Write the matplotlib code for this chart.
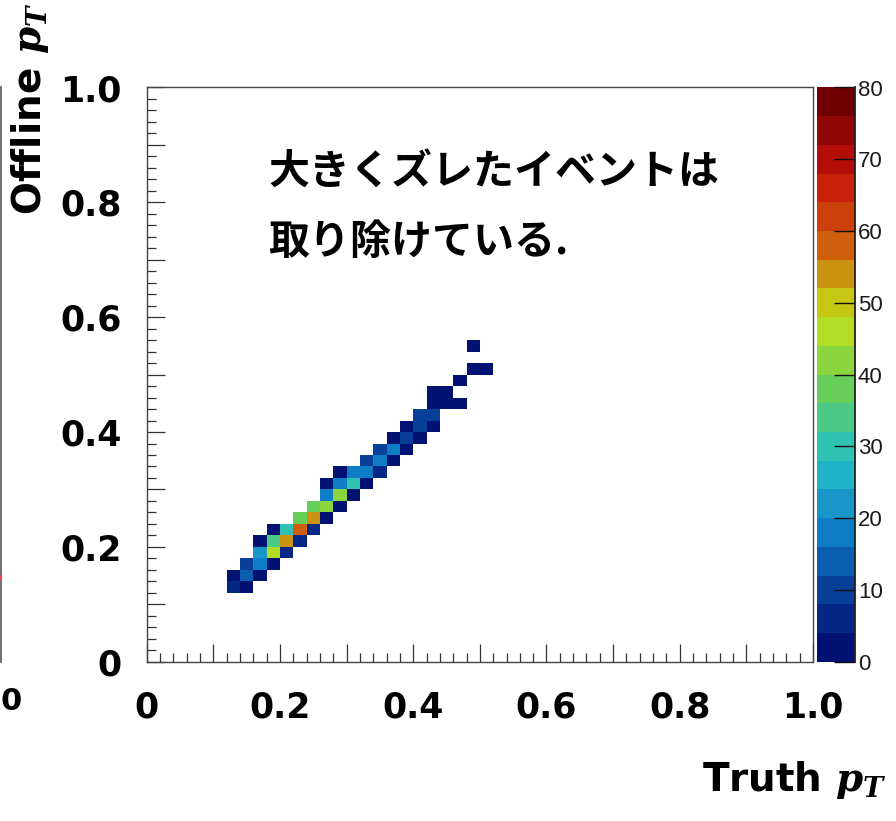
import numpy as np
import matplotlib
matplotlib.use('Agg')
import matplotlib.pyplot as plt
from matplotlib.colors import LinearSegmentedColormap, ListedColormap, BoundaryNorm
from matplotlib.ticker import MultipleLocator, FuncFormatter
from matplotlib.transforms import Affine2D

# 2D histogram contents (bin centres, 50x50 bins of 0.02)
truth_pt = [0.13, 0.15,
            0.13, 0.15, 0.17,
            0.15, 0.17, 0.19,
            0.17, 0.19, 0.21,
            0.17, 0.19, 0.21, 0.23,
            0.19, 0.21, 0.23, 0.25,
            0.23, 0.25, 0.27,
            0.25, 0.27, 0.29,
            0.27, 0.29, 0.31,
            0.27, 0.29, 0.31, 0.33,
            0.29, 0.31, 0.33, 0.35,
            0.33, 0.35, 0.37,
            0.35, 0.37, 0.39,
            0.37, 0.39, 0.41,
            0.39, 0.41, 0.43,
            0.41, 0.43,
            0.43, 0.45, 0.47,
            0.43, 0.45,
            0.47,
            0.49, 0.51,
            0.49]
offline_pt = [0.13, 0.13,
              0.15, 0.15, 0.15,
              0.17, 0.17, 0.17,
              0.19, 0.19, 0.19,
              0.21, 0.21, 0.21, 0.21,
              0.23, 0.23, 0.23, 0.23,
              0.25, 0.25, 0.25,
              0.27, 0.27, 0.27,
              0.29, 0.29, 0.29,
              0.31, 0.31, 0.31, 0.31,
              0.33, 0.33, 0.33, 0.33,
              0.35, 0.35, 0.35,
              0.37, 0.37, 0.37,
              0.39, 0.39, 0.39,
              0.41, 0.41, 0.41,
              0.43, 0.43,
              0.45, 0.45, 0.45,
              0.47, 0.47,
              0.49,
              0.51, 0.51,
              0.55]
counts = [6, 2,
          2, 14, 2,
          10, 18, 2,
          22, 46, 6,
          2, 34, 54, 6,
          2, 30, 58, 6,
          38, 54, 2,
          38, 42, 2,
          18, 42, 2,
          2, 18, 30, 2,
          2, 18, 18, 6,
          10, 18, 2,
          10, 18, 2,
          2, 10, 2,
          2, 10, 2,
          10, 10,
          2, 2, 2,
          2, 2,
          2,
          2, 2,
          2]

tick_labels = ['0', '0.2', '0.4', '0.6', '0.8', '1.0']
z_ticks = [0, 10, 20, 30, 40, 50, 60, 70, 80]

W, H = 896, 821

plt.rcParams['mathtext.fontset'] = 'custom'
plt.rcParams['mathtext.it'] = 'DejaVu Serif:italic:bold'
plt.rcParams['mathtext.rm'] = 'DejaVu Serif:bold'

# ROOT kRainBow palette, 20 contour levels
r = [0, 5, 15, 35, 102, 196, 208, 199, 110]
g = [0, 48, 124, 192, 206, 226, 97, 16, 0]
b = [99, 142, 198, 201, 90, 22, 13, 8, 2]
base = LinearSegmentedColormap.from_list(
    'rainbow', [(r[k] / 255, g[k] / 255, b[k] / 255) for k in range(9)], N=256)
cmap = ListedColormap([base((k + 1) / 20) for k in range(20)])
norm = BoundaryNorm(np.linspace(0, 80, 21), 20)

fig = plt.figure(figsize=(W / 100, H / 100), dpi=100)
fig.patch.set_facecolor('white')

ax = fig.add_axes([146.7 / W, 1 - 661.7 / H, (813 - 146.7) / W, (661.7 - 87.5) / H])
cax = fig.add_axes([817 / W, 1 - 661.7 / H, 38 / W, (661.7 - 87.5) / H])

hist = ax.hist2d(truth_pt, offline_pt, bins=50, range=[[0, 1], [0, 1]],
                 weights=counts, cmap=cmap, norm=norm, cmin=0.5)

ax.set_xlim(0, 1)
ax.set_ylim(0, 1)


def fmt(v, pos):
    k = int(round(v * 10))
    if k % 2:
        return ''
    return tick_labels[k // 2]


for axis in (ax.xaxis, ax.yaxis):
    axis.set_major_locator(MultipleLocator(0.1))
    axis.set_minor_locator(MultipleLocator(0.02))
    axis.set_major_formatter(FuncFormatter(fmt))

ax.tick_params(which='both', direction='in', top=False, right=False,
               color='#333333', width=0.9)
ax.tick_params(which='major', length=13)
ax.tick_params(which='minor', length=6.5)
ax.tick_params(axis='x', which='major', pad=21)
ax.tick_params(axis='y', which='major', pad=18)
for lab in ax.get_xticklabels() + ax.get_yticklabels():
    lab.set_fontsize(25)
    lab.set_fontweight('bold')
    lab.set_color('black')
for sp in ax.spines.values():
    sp.set_color('#444444')
    sp.set_linewidth(1.0)

# ROOT pushes the y "0" a little below the axis
zero_lab = ax.yaxis.get_major_ticks()[0].label1
zero_lab.set_transform(zero_lab.get_transform() + Affine2D().translate(0, -8))

cb = fig.colorbar(hist[3], cax=cax, ticks=z_ticks)
cb.outline.set_visible(False)
cax.yaxis.set_ticks_position('right')
cax.tick_params(direction='in', length=15, width=1.0, color='#111111',
                pad=2, labelsize=16, labelcolor='#1a1a1a')
for lab in cax.get_yticklabels():
    lab.set_family('Liberation Sans')
cax.minorticks_off()
cax.plot([1, 1], [0, 1], transform=cax.transAxes, color='#222222', lw=1.3,
         clip_on=False)

# axis titles
fig.text(886 / W, 1 - 791 / H, 'Truth $p_T$', ha='right', va='baseline',
         fontsize=28, fontweight='bold')
fig.text(30 / W, 1 - 3 / H, 'Offline $p_T$', rotation=90, ha='center',
         va='top', fontsize=28, fontweight='bold')

# annotation
jp = ['Noto Sans CJK JP', 'DejaVu Sans']
fig.text(268 / W, 1 - 173 / H, '大きくズレたイベントは', family=jp,
         fontsize=29.5, fontweight='bold', ha='left', va='center')
fig.text(268 / W, 1 - 242 / H, '取り除けている.', family=jp,
         fontsize=29.5, fontweight='bold', ha='left', va='center')

# remnants of the neighbouring panel on the slide
fig.add_artist(plt.Line2D([1.2 / W, 1.2 / W], [1 - 662 / H, 1 - 87 / H],
                          color='#555555', lw=1.2))
fig.add_artist(plt.Line2D([1.2 / W, 1.2 / W], [1 - 579 / H, 1 - 576 / H],
                          color='#ff4040', lw=1.5))
fig.text(0.5 / W, 1 - 702 / H, '0', ha='left', va='center', fontsize=22,
         fontweight='bold')

fig.savefig('out.png', dpi=100)
